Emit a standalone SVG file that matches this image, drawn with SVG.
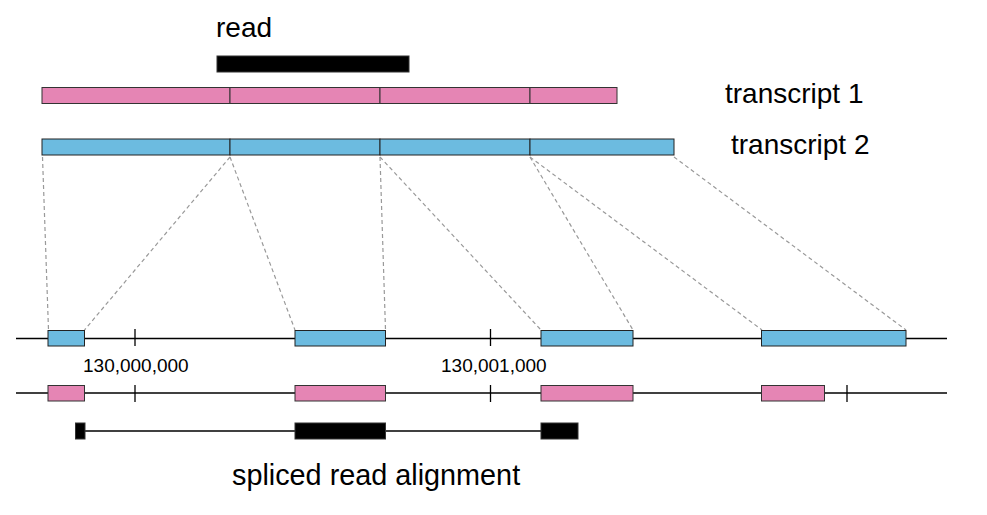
<svg xmlns="http://www.w3.org/2000/svg" width="987" height="515" viewBox="0 0 987 515">
<style>
text{font-family:"Liberation Sans",Arial,sans-serif;fill:#000}
.lbl{font-size:28px}
.num{font-size:19px}
.pink{fill:#E585B4;stroke:#333;stroke-width:1}
.blue{fill:#6CBBE0;stroke:#222;stroke-width:1}
.blk{fill:#000;stroke:#333;stroke-width:1}
.axis{stroke:#000;stroke-width:1.3;fill:none}
.dash{stroke:#999;stroke-width:1.2;stroke-dasharray:4 3;fill:none}
</style>
<rect width="987" height="515" fill="#fff"/>
<g id="read">
<text class="lbl" x="216" y="37">read</text>
<rect class="blk" x="217" y="56" width="192" height="16"/>
</g>
<g id="transcript1">
<rect class="pink" x="42" y="87.5" width="188" height="16"/>
<rect class="pink" x="230" y="87.5" width="150" height="16"/>
<rect class="pink" x="380" y="87.5" width="150" height="16"/>
<rect class="pink" x="530" y="87.5" width="87" height="16"/>
<text class="lbl" x="725" y="103">transcript 1</text>
</g>
<g id="transcript2">
<rect class="blue" x="42" y="139" width="188" height="16"/>
<rect class="blue" x="230" y="139" width="150" height="16"/>
<rect class="blue" x="380" y="139" width="150" height="16"/>
<rect class="blue" x="530" y="139" width="144" height="16"/>
<text class="lbl" x="731" y="154">transcript 2</text>
</g>
<g id="connectors">
<line class="dash" x1="42.5" y1="157" x2="48.5" y2="330"/>
<line class="dash" x1="230" y1="157" x2="84.5" y2="330"/>
<line class="dash" x1="230" y1="157" x2="295" y2="330"/>
<line class="dash" x1="380" y1="157" x2="385.5" y2="330"/>
<line class="dash" x1="380" y1="157" x2="541" y2="330"/>
<line class="dash" x1="530" y1="157" x2="633" y2="330"/>
<line class="dash" x1="530" y1="157" x2="762" y2="330"/>
<line class="dash" x1="674" y1="157" x2="906" y2="330"/>
</g>
<g id="genome-transcript2">
<line class="axis" x1="16" y1="338.5" x2="947" y2="338.5"/>
<line class="axis" x1="135" y1="329" x2="135" y2="346"/>
<line class="axis" x1="490.5" y1="329" x2="490.5" y2="346"/>
<rect class="blue" x="48" y="330.5" width="36.5" height="15.5"/>
<rect class="blue" x="295" y="330.5" width="90.5" height="15.5"/>
<rect class="blue" x="541" y="330.5" width="92" height="15.5"/>
<rect class="blue" x="761.5" y="330.5" width="144.5" height="15.5"/>
</g>
<g id="coordinates">
<text class="num" x="83" y="372">130,000,000</text>
<text class="num" x="441" y="372">130,001,000</text>
</g>
<g id="genome-transcript1">
<line class="axis" x1="16" y1="393" x2="947" y2="393"/>
<line class="axis" x1="135" y1="385" x2="135" y2="402"/>
<line class="axis" x1="490.5" y1="385" x2="490.5" y2="402"/>
<line class="axis" x1="847" y1="385" x2="847" y2="402"/>
<rect class="pink" x="48" y="385.5" width="36.5" height="15.5"/>
<rect class="pink" x="295" y="385.5" width="90.5" height="15.5"/>
<rect class="pink" x="541" y="385.5" width="92" height="15.5"/>
<rect class="pink" x="761.5" y="385.5" width="63" height="15.5"/>
</g>
<g id="alignment">
<line class="axis" x1="85" y1="431" x2="541" y2="431"/>
<rect class="blk" x="75.5" y="423" width="9.5" height="16"/>
<rect class="blk" x="295" y="423" width="90.5" height="16"/>
<rect class="blk" x="541" y="423" width="37" height="16"/>
<text class="lbl" x="232" y="485" style="font-size:28.8px">spliced read alignment</text>
</g>
</svg>
